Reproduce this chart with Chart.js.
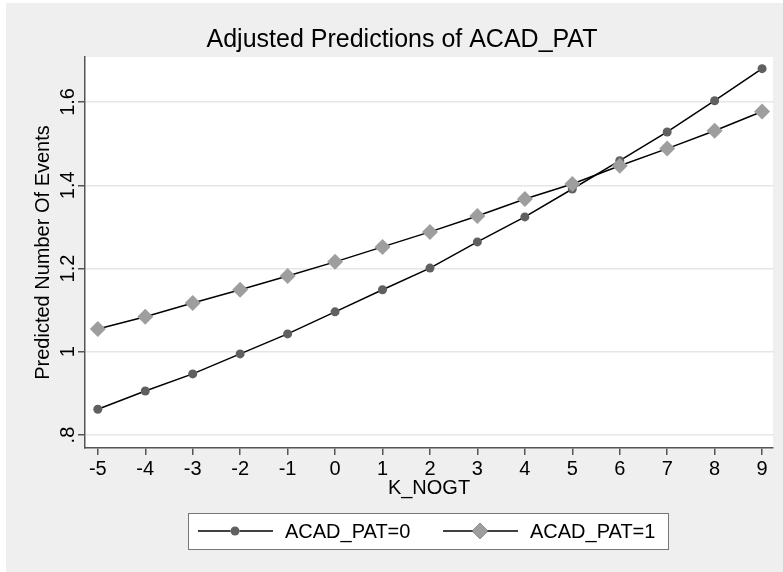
<!DOCTYPE html>
<html>
<head>
<meta charset="utf-8">
<script src="https://cdn.jsdelivr.net/npm/chart.js@4"></script>
<style>
  html, body { margin: 0; padding: 0; background: #fff; }
  #wrap { width: 783px; height: 572px; }
</style>
</head>
<body>
<div id="wrap"><canvas id="chart" width="783" height="572"></canvas></div>
<script>
// K_NOGT values on the x axis
const kNogt = [-5, -4, -3, -2, -1, 0, 1, 2, 3, 4, 5, 6, 7, 8, 9];
// predicted number of events, ACAD_PAT=0
const acadPat0 = [0.862, 0.906, 0.947, 0.995, 1.043, 1.096, 1.149, 1.201, 1.264, 1.324, 1.391, 1.459, 1.528, 1.603, 1.680];
// predicted number of events, ACAD_PAT=1
const acadPat1 = [1.055, 1.084, 1.117, 1.149, 1.182, 1.216, 1.252, 1.288, 1.326, 1.367, 1.403, 1.447, 1.488, 1.531, 1.577];
const yTicks = [0.8, 1, 1.2, 1.4, 1.6];
const yTickLabels = ['.8', '1', '1.2', '1.4', '1.6'];
const seriesLabels = ['ACAD_PAT=0', 'ACAD_PAT=1'];

const FONT = '"Liberation Sans", Arial, sans-serif';
const AXIS = '#555555';

const toPoints = (vals) => kNogt.map((x, i) => ({ x: x, y: vals[i] }));

// grey panel, white plot region, rotated y labels and the boxed legend
const stataLook = {
  id: 'stataLook',
  beforeDraw(chart) {
    const ctx = chart.ctx;
    const a = chart.chartArea;
    ctx.save();
    ctx.fillStyle = '#ffffff';
    ctx.fillRect(0, 0, chart.width, chart.height);
    ctx.fillStyle = '#efefef';
    ctx.fillRect(6, 3, chart.width - 6, chart.height - 3);
    ctx.fillStyle = '#ffffff';
    ctx.fillRect(a.left, a.top, a.right - a.left, a.bottom - a.top);
    ctx.restore();
  },
  afterDraw(chart) {
    const ctx = chart.ctx;
    const ys = chart.scales.y;
    ctx.save();
    ctx.fillStyle = '#000';
    ctx.font = '20px ' + FONT;
    ctx.textAlign = 'center';
    ctx.textBaseline = 'middle';
    ys.ticks.forEach((t, i) => {
      const py = ys.getPixelForValue(t.value);
      ctx.save();
      ctx.translate(68, py);
      ctx.rotate(-Math.PI / 2);
      ctx.fillText(yTickLabels[i], 0, 0);
      ctx.restore();
    });

    // legend
    const bx = 188, by = 513, bw = 480, bh = 36;
    ctx.fillStyle = '#ffffff';
    ctx.fillRect(bx, by, bw, bh);
    ctx.strokeStyle = '#777777';
    ctx.lineWidth = 1;
    ctx.strokeRect(bx + 0.5, by + 0.5, bw, bh);
    const cy = by + bh / 2;
    chart.data.datasets.forEach((ds, i) => {
      const x0 = bx + 10 + i * 245;
      ctx.strokeStyle = ds.borderColor;
      ctx.lineWidth = ds.borderWidth;
      ctx.beginPath();
      ctx.moveTo(x0, cy);
      ctx.lineTo(x0 + 75, cy);
      ctx.stroke();
      Chart.helpers.drawPoint(ctx, {
        pointStyle: ds.pointStyle,
        radius: ds.pointRadius,
        rotation: 0,
        borderWidth: 0
      }, x0 + 37, cy);
      ctx.fillStyle = ds.pointBackgroundColor;
      ctx.fill();
      ctx.fillStyle = '#000';
      ctx.textAlign = 'left';
      ctx.fillText(ds.label, x0 + 87, cy + 1);
    });
    ctx.restore();
  }
};

new Chart(document.getElementById('chart'), {
  type: 'line',
  data: {
    datasets: [
      {
        label: seriesLabels[0],
        data: toPoints(acadPat0),
        borderColor: '#000000',
        borderWidth: 1.5,
        pointStyle: 'circle',
        pointRadius: 4.5,
        pointBackgroundColor: '#606060',
        pointBorderColor: '#606060',
        pointBorderWidth: 0,
        tension: 0,
        order: 1
      },
      {
        label: seriesLabels[1],
        data: toPoints(acadPat1),
        borderColor: '#000000',
        borderWidth: 1.5,
        pointStyle: 'rectRot',
        pointRadius: 8,
        pointBackgroundColor: '#9e9e9e',
        pointBorderColor: '#9e9e9e',
        pointBorderWidth: 0,
        tension: 0,
        order: 0
      }
    ]
  },
  options: {
    responsive: false,
    animation: false,
    events: [],
    layout: { padding: { left: 31, top: 10, right: 10, bottom: 72 } },
    plugins: {
      legend: { display: false },
      tooltip: { enabled: false },
      title: {
        display: true,
        text: 'Adjusted Predictions of ACAD_PAT',
        color: '#000',
        font: { family: FONT, size: 25, weight: 'normal' },
        padding: { top: 15, bottom: 2 }
      }
    },
    scales: {
      x: {
        type: 'linear',
        min: -5.27,
        max: 9.23,
        afterBuildTicks: (s) => { s.ticks = kNogt.map(v => ({ value: v })); },
        afterFit: (s) => { s.height = 52; },
        ticks: {
          color: '#000',
          font: { family: FONT, size: 20 },
          padding: 2,
          maxRotation: 0,
          autoSkip: false
        },
        grid: { drawOnChartArea: false, tickColor: AXIS, tickLength: 7, lineWidth: 1.5 },
        border: { color: AXIS, width: 1.5 },
        title: {
          display: true,
          text: 'K_NOGT',
          color: '#000',
          font: { family: FONT, size: 20 },
          padding: { top: 0, bottom: 0 }
        }
      },
      y: {
        min: 0.769,
        max: 1.708,
        afterBuildTicks: (s) => { s.ticks = yTicks.map(v => ({ value: v })); },
        afterFit: (s) => { s.width = 54; },
        ticks: { display: false },
        grid: { color: '#e6e6e6', lineWidth: 1.5, tickColor: AXIS, tickLength: 7 },
        border: { color: AXIS, width: 1.5 },
        title: {
          display: true,
          text: 'Predicted Number Of Events',
          color: '#000',
          font: { family: FONT, size: 20 },
          padding: { top: 0, bottom: 0 }
        }
      }
    }
  },
  plugins: [stataLook]
});
</script>
</body>
</html>
